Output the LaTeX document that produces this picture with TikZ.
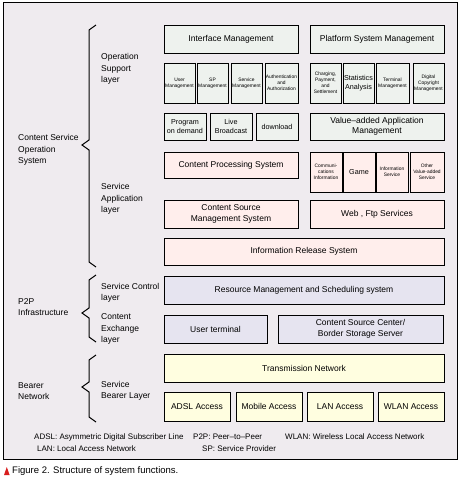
\documentclass[tikz,border=0pt]{standalone}
\usepackage{fontspec}
\setmainfont{Liberation Sans}
\usepackage{xcolor}
\definecolor{paperbg}{HTML}{EFEBEF}
\definecolor{mgmtgreen}{HTML}{EEF2EE}
\definecolor{apppink}{HTML}{FFEEEC}
\definecolor{ctrllav}{HTML}{E6E4F0}
\definecolor{bearyellow}{HTML}{FFFEE0}
\definecolor{capred}{HTML}{D81E1E}
\tikzset{
    funcbox/.style={draw,line width=0.8pt,inner sep=0pt,align=center,
        font=\fontsize{8.5}{10.5}\selectfont},
    tinybox/.style={font=\fontsize{4.9}{5.9}\selectfont},
    smallbox/.style={font=\fontsize{7.2}{9}\selectfont},
    layerlabel/.style={anchor=west,align=left,inner sep=0pt,
        font=\fontsize{8.5}{11.5}\selectfont},
    notelabel/.style={anchor=west,inner sep=0pt,font=\fontsize{8}{9}\selectfont},
    bracepath/.style={line width=1pt}
}
% box from (x1,y1) to (x2,y2) in pixels, y downwards
\newcommand{\sysbox}[8][]{
    \node[funcbox,fill=#3,minimum width={(#6-#4)*1pt},minimum height={(#7-#5)*1pt},#1]
        (#2) at ({(#4+#6)/2},{(#5+#7)/2}) {#8};
}
\newcommand{\layerbrace}[3]{
    \draw[bracepath] (96,#1) -- (89,{#1+5}) -- (89,{#2-5}) -- (82,#2)
        -- (89,{#2+5}) -- (89,{#3-5}) -- (96,#3);
}

\begin{document}
\begin{tikzpicture}[x=1pt,y=-1pt]
    \useasboundingbox (0,0) rectangle (459,480);
    \draw[fill=paperbg,line width=0.8pt] (3,2) rectangle (457,459);

    % operation support layer
    \sysbox{iface}{mgmtgreen}{164}{25}{298}{53}{Interface Management}
    \sysbox{platform}{mgmtgreen}{310}{25}{444}{53}{Platform System Management}
    \sysbox[tinybox]{usermgmt}{mgmtgreen}{164}{63}{195}{103}{User\\Management}
    \sysbox[tinybox]{spmgmt}{mgmtgreen}{197}{63}{228}{103}{SP\\Management}
    \sysbox[tinybox]{servmgmt}{mgmtgreen}{231}{63}{262}{103}{Service\\Management}
    \sysbox[tinybox]{authmgmt}{mgmtgreen}{265}{63}{298}{103}{Authentication\\and\\Authorization}
    \sysbox[tinybox]{charging}{mgmtgreen}{310}{63}{341}{103}{Charging,\\Payment,\\and\\Settlement}
    \sysbox[smallbox]{stats}{mgmtgreen}{343}{63}{374}{103}{Statistics\\Analysis}
    \sysbox[tinybox]{termmgmt}{mgmtgreen}{376}{63}{409}{103}{Terminal\\Management}
    \sysbox[tinybox]{drmmgmt}{mgmtgreen}{413}{63}{444}{103}{Digital\\Copyright\\Management}
    \sysbox[smallbox]{vod}{mgmtgreen}{164}{113}{206}{140}{Program\\on demand}
    \sysbox[smallbox]{live}{mgmtgreen}{210}{113}{252}{140}{Live\\Broadcast}
    \sysbox[smallbox]{download}{mgmtgreen}{256}{113}{298}{140}{download}
    \sysbox{valueapp}{mgmtgreen}{310}{113}{444}{140}{Value–added Application\\Management}

    % service application layer
    \sysbox{processing}{apppink}{164}{152}{298}{178}{Content Processing System}
    \sysbox[tinybox]{comminfo}{apppink}{310}{152}{342}{192}{Communi-\\cations\\Information}
    \sysbox[smallbox]{game}{apppink}{343}{152}{375}{192}{Game}
    \sysbox[tinybox]{infoserv}{apppink}{376}{152}{408}{192}{Information\\Service}
    \sysbox[tinybox]{otherserv}{apppink}{410}{152}{444}{192}{Other\\Value-added\\Service}
    \sysbox{sourcemgmt}{apppink}{164}{200}{298}{228}{Content Source\\Management System}
    \sysbox{webftp}{apppink}{310}{200}{444}{228}{Web , Ftp Services}
    \sysbox{release}{apppink}{164}{238}{444}{265}{Information Release System}

    % p2p infrastructure
    \sysbox{resource}{ctrllav}{164}{276}{444}{304}{Resource Management and Scheduling system}
    \sysbox{userterm}{ctrllav}{164}{315}{267}{343}{User terminal}
    \sysbox{sourcecenter}{ctrllav}{278}{315}{443}{343}{Content Source Center/\\Border Storage Server}

    % bearer network
    \sysbox{transnet}{bearyellow}{164}{354}{444}{382}{Transmission Network}
    \sysbox{adsl}{bearyellow}{164}{392}{230}{421}{ADSL Access}
    \sysbox{mobile}{bearyellow}{236}{392}{302}{421}{Mobile Access}
    \sysbox{lan}{bearyellow}{307}{392}{373}{421}{LAN Access}
    \sysbox{wlan}{bearyellow}{378}{392}{444}{421}{WLAN Access}

    \layerbrace{25}{145}{267}
    \layerbrace{275}{313}{342}
    \layerbrace{355}{387}{422}

    \node[layerlabel] (csos) at (18,150) {Content Service\\Operation\\System};
    \node[layerlabel] (opsupport) at (101,69) {Operation\\Support\\layer};
    \node[layerlabel] (servapp) at (101,199) {Service\\Application\\layer};
    \node[layerlabel] (p2pinfra) at (18,307) {P2P\\Infrastructure};
    \node[layerlabel] (servctrl) at (101,293) {Service Control\\layer};
    \node[layerlabel] (exchange) at (101,329) {Content\\Exchange\\layer};
    \node[layerlabel] (bearernet) at (18,391) {Bearer\\Network};
    \node[layerlabel] (servbearer) at (101,391) {Service\\Bearer Layer};

    \node[notelabel] (noteadsl) at (34,437) {ADSL: Asymmetric Digital Subscriber Line};
    \node[notelabel] (notep2p) at (193,437) {P2P: Peer–to–Peer};
    \node[notelabel] (notewlan) at (285,437) {WLAN: Wireless Local Access Network};
    \node[notelabel] (notelan) at (37,449) {LAN: Local Access Network};
    \node[notelabel] (notesp) at (202,449) {SP: Service Provider};

    \fill[capred] (4,475) -- (9.6,475) -- (6.8,467) -- cycle;
    \node[anchor=west,inner sep=0pt,font=\fontsize{9.5}{11}\selectfont] (caption) at (12,471)
        {Figure 2. Structure of system functions.};
\end{tikzpicture}
\end{document}
